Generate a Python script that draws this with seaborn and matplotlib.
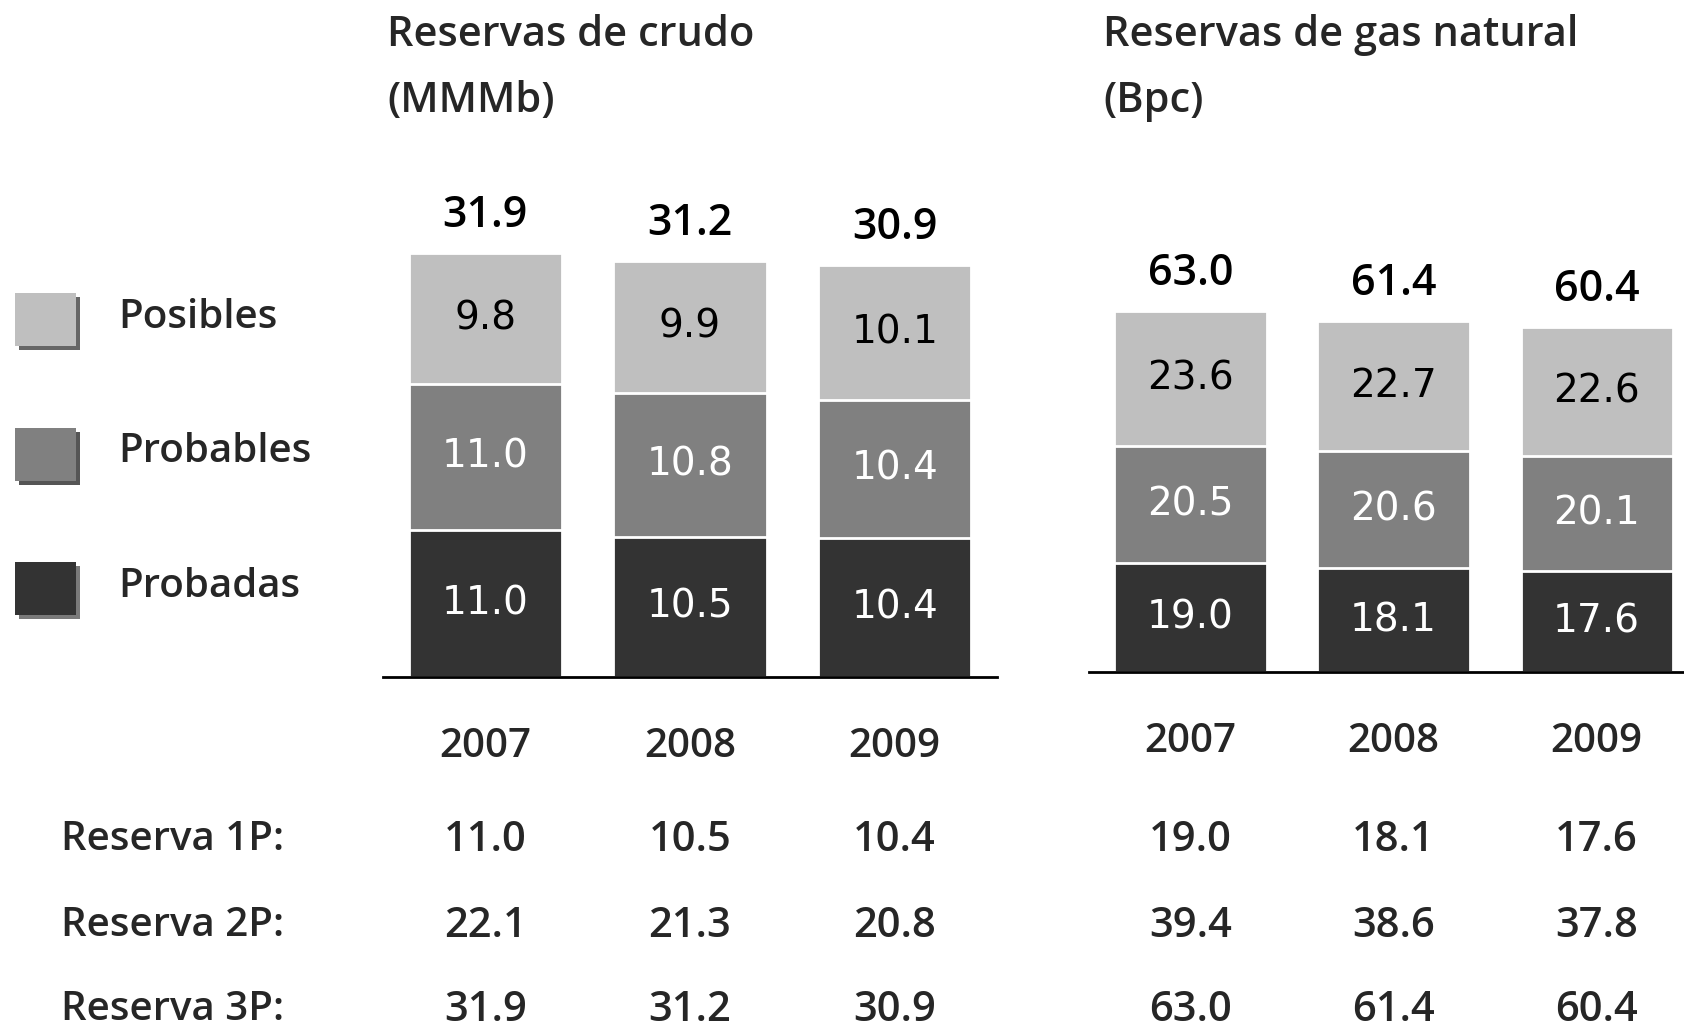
import numpy as np
import pandas as pd
import matplotlib
matplotlib.use("Agg")
import matplotlib.pyplot as plt
import matplotlib.patheffects as pe
from matplotlib.patches import Rectangle
from matplotlib.transforms import blended_transform_factory
import seaborn as sns

anios = ["2007", "2008", "2009"]

# reservas de crudo (MMMb)
crudo_probadas = [11.0, 10.5, 10.4]
crudo_probables = [11.0, 10.8, 10.4]
crudo_posibles = [9.8, 9.9, 10.1]
crudo_1p = [11.0, 10.5, 10.4]
crudo_2p = [22.1, 21.3, 20.8]
crudo_3p = [31.9, 31.2, 30.9]

# reservas de gas natural (Bpc)
gas_probadas = [19.0, 18.1, 17.6]
gas_probables = [20.5, 20.6, 20.1]
gas_posibles = [23.6, 22.7, 22.6]
gas_1p = [19.0, 18.1, 17.6]
gas_2p = [39.4, 38.6, 37.8]
gas_3p = [63.0, 61.4, 60.4]

colores = {"Probadas": "#333333", "Probables": "#808080", "Posibles": "#bfbfbf"}
sombras = {"Probadas": "#7a7a7a", "Probables": "#555555", "Posibles": "#666666"}

sns.set_style("white")
plt.rcParams["font.family"] = ["Open Sans", "DejaVu Sans"]
PESO = "semibold"

W, H = 1684, 1029
fig = plt.figure(figsize=(W / 100, H / 100), dpi=100)


def px_axes(x0, x1, base, top=0):
    return fig.add_axes([x0 / W, (H - base) / H, (x1 - x0) / W, (base - top) / H])


def dibujar(ax, probadas, probables, posibles, totales, ymax, xmax):
    df = pd.DataFrame({"anio": anios, "Probadas": probadas,
                       "Probables": probables, "Posibles": posibles})
    df["c1"] = df["Probadas"]
    df["c2"] = df["c1"] + df["Probables"]
    df["c3"] = df["c2"] + df["Posibles"]
    for col, serie in [("c3", "Posibles"), ("c2", "Probables"), ("c1", "Probadas")]:
        sns.barplot(data=df, x="anio", y=col, color=colores[serie], width=0.75,
                    edgecolor="white", linewidth=2, saturation=1, ax=ax)
    # etiquetas dentro de cada segmento
    for i, row in df.iterrows():
        segs = [(0, row["c1"], row["Probadas"], "white"),
                (row["c1"], row["c2"], row["Probables"], "white"),
                (row["c2"], row["c3"], row["Posibles"], "black")]
        for b, t, v, c in segs:
            ax.text(i, (b + t) / 2, f"{v:.1f}", ha="center", va="center",
                    color=c, fontsize=28, family="DejaVu Sans")
        ax.annotate(f"{totales[i]:.1f}", (i, row["c3"]), xytext=(0, 27),
                    textcoords="offset points", ha="center", va="center",
                    fontsize=31, fontweight=PESO, color="black")
    ax.set_xlim(-0.5, xmax)
    ax.set_ylim(0, ymax)
    ax.set_xlabel("")
    ax.set_ylabel("")
    ax.set_yticks([])
    ax.tick_params(axis="x", length=0, pad=36, labelsize=29)
    for lbl in ax.get_xticklabels():
        lbl.set_fontweight(PESO)
    sns.despine(ax=ax, left=True)
    ax.spines["bottom"].set_color("black")
    ax.spines["bottom"].set_linewidth(2)
    ax.patch.set_alpha(0)


ax1 = px_axes(383, 997, 677)
dibujar(ax1, crudo_probadas, crudo_probables, crudo_posibles, crudo_3p,
        677 / 13.34, 2.5)
ax2 = px_axes(1089, 1684, 672)
dibujar(ax2, gas_probadas, gas_probables, gas_posibles, gas_3p,
        672 / 5.72, 2.43)

# titulos
for x, linea1, linea2 in [(387, "Reservas de crudo", "(MMMb)"),
                          (1103, "Reservas de gas natural", "(Bpc)")]:
    fig.text(x / W, 1 - 35 / H, linea1, fontsize=30, fontweight=PESO,
             va="center", ha="left")
    fig.text(x / W, 1 - 101 / H, linea2, fontsize=30, fontweight=PESO,
             va="center", ha="left")

# leyenda
for nombre, ytop, ytxt in [("Posibles", 293, 318), ("Probables", 428, 452),
                           ("Probadas", 562, 587)]:
    r = Rectangle((15 / W, 1 - (ytop + 53) / H), 61 / W, 53 / H,
                  transform=fig.transFigure, facecolor=colores[nombre],
                  edgecolor="none",
                  path_effects=[pe.SimplePatchShadow(offset=(3, -3),
                                                     shadow_rgbFace=sombras[nombre],
                                                     alpha=1),
                                pe.Normal()])
    fig.add_artist(r)
    fig.text(118 / W, 1 - ytxt / H, nombre, fontsize=29, fontweight=PESO,
             va="center", ha="left")

# tabla inferior
filas = [("Reserva 1P:", crudo_1p, gas_1p, 840),
         ("Reserva 2P:", crudo_2p, gas_2p, 926),
         ("Reserva 3P:", crudo_3p, gas_3p, 1010)]
for etiqueta, vc, vg, y in filas:
    fig.text(61 / W, 1 - y / H, etiqueta, fontsize=29, fontweight=PESO,
             va="center", ha="left")
    for ax, vals in [(ax1, vc), (ax2, vg)]:
        tr = blended_transform_factory(ax.transData, fig.transFigure)
        for i, v in enumerate(vals):
            ax.text(i, 1 - y / H, f"{v:.1f}", transform=tr, fontsize=30,
                    fontweight=PESO, ha="center", va="center", clip_on=False)

fig.savefig("out.png", dpi=100)
